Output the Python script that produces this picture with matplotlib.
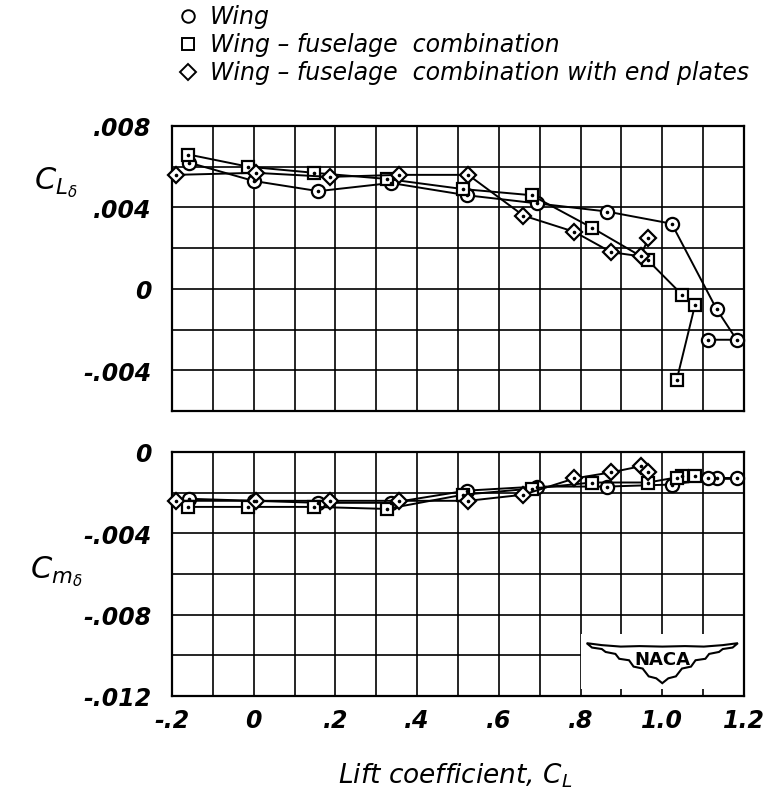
"""Effectiveness of a control (C_L_delta, C_m_delta) against lift coefficient, NACA style."""

import matplotlib
matplotlib.use("Agg")
import matplotlib.pyplot as plt
import matplotlib.ticker as mticker
import numpy as np
from matplotlib.patches import Rectangle, Polygon

# ── Data ────────────────────────────────────────────────────────────────────
# Wing (circles)
CL_WING = [-0.158, 0.000, 0.158, 0.336, 0.521, 0.693, 0.864, 1.023, 1.133, 1.182, 1.113]
CLD_WING = [0.0062, 0.0053, 0.0048, 0.0052, 0.0046, 0.0042, 0.0038, 0.0032, -0.0010, -0.0025, -0.0025]
CMD_WING = [-0.0023, -0.0024, -0.0025, -0.0025, -0.0019, -0.0017, -0.0017, -0.0016, -0.0013, -0.0013, -0.0013]

# Wing-fuselage combination (squares)
CL_WF = [-0.160, -0.013, 0.148, 0.325, 0.513, 0.680, 0.828, 0.965, 1.049, 1.080, 1.035]
CLD_WF = [0.0066, 0.0060, 0.0057, 0.0054, 0.0049, 0.0046, 0.0030, 0.0014, -0.0003, -0.0008, -0.0045]
CMD_WF = [-0.0027, -0.0027, -0.0027, -0.0028, -0.0021, -0.0018, -0.0015, -0.0015, -0.0012, -0.0012, -0.0013]

# Wing-fuselage combination with end plates (diamonds)
CL_WFE = [-0.190, 0.005, 0.186, 0.356, 0.525, 0.660, 0.785, 0.875, 0.947, 0.966]
CLD_WFE = [0.0056, 0.0057, 0.0055, 0.0056, 0.0056, 0.0036, 0.0028, 0.0018, 0.0016, 0.0025]
CMD_WFE = [-0.0024, -0.0024, -0.0024, -0.0024, -0.0024, -0.0021, -0.0013, -0.0010, -0.0007, -0.0010]

LABELS = [
    "Wing",
    "Wing \u2013 fuselage  combination",
    "Wing \u2013 fuselage  combination with end plates",
]
MARKERS = ["o", "s", "D"]
SIZES = [9.5, 8.5, 8.5]

X_TICKS = [-0.2, 0.0, 0.2, 0.4, 0.6, 0.8, 1.0, 1.2]
X_LABELS = ["-.2", "0", ".2", ".4", ".6", ".8", "1.0", "1.2"]
Y1_TICKS = [-0.004, 0.0, 0.004, 0.008]
Y1_LABELS = ["-.004", "0", ".004", ".008"]
Y2_TICKS = [-0.012, -0.008, -0.004, 0.0]
Y2_LABELS = ["-.012", "-.008", "-.004", "0"]

SERIES = [
    (CL_WING, CLD_WING, CMD_WING),
    (CL_WF, CLD_WF, CMD_WF),
    (CL_WFE, CLD_WFE, CMD_WFE),
]

W, H = 771, 804
FONT = dict(family="DejaVu Sans", style="italic")

fig = plt.figure(figsize=(W / 100, H / 100), dpi=100)
fig.patch.set_facecolor("white")

ax1 = fig.add_axes([172 / W, 1 - 412 / H, 572 / W, 285 / H])
ax2 = fig.add_axes([172 / W, 1 - 697 / H, 572 / W, 244 / H])


def style_axes(ax, ylim, yticks, ylabels, show_x):
    ax.set_xlim(-0.2, 1.2)
    ax.set_ylim(*ylim)
    ax.xaxis.set_minor_locator(mticker.MultipleLocator(0.1))
    ax.yaxis.set_minor_locator(mticker.MultipleLocator(0.002))
    ax.set_xticks(X_TICKS)
    ax.set_yticks(yticks)
    ax.set_yticklabels(ylabels, fontsize=17, fontweight="bold", **FONT)
    if show_x:
        ax.set_xticklabels(X_LABELS, fontsize=17, fontweight="bold", **FONT)
    else:
        ax.set_xticklabels([])
    ax.tick_params(which="both", length=0)
    ax.tick_params(axis="y", pad=15)
    ax.tick_params(axis="x", pad=9)
    ax.grid(True, which="both", color="black", linewidth=1.2)
    ax.set_axisbelow(True)
    for sp in ax.spines.values():
        sp.set_linewidth(1.6)
        sp.set_color("black")


style_axes(ax1, (-0.006, 0.008), Y1_TICKS, Y1_LABELS, False)
style_axes(ax2, (-0.012, 0.0), Y2_TICKS, Y2_LABELS, True)

for (cl, cld, cmd), marker, ms in zip(SERIES, MARKERS, SIZES):
    for ax, vals in ((ax1, cld), (ax2, cmd)):
        ax.plot(cl, vals, color="black", linewidth=1.4, marker=marker,
                markersize=ms, markerfacecolor="white", markeredgecolor="black",
                markeredgewidth=1.6, zorder=3, clip_on=False)
        ax.plot(cl, vals, linestyle="none", marker="o", markersize=1.6,
                color="black", zorder=4, clip_on=False)

# NACA wing logo in the lower right corner of the bottom panel
ax2.add_patch(Rectangle((0.8, -0.01165), 0.4, 0.0027, facecolor="white",
                        edgecolor="none", zorder=2))
cx, cy, sx, sy = 1.0, -0.00945, 0.185, 0.0024
wing = np.array([
    (-1.00, 0.02), (-0.80, -0.02), (-0.55, -0.05), (-0.30, -0.04), (0.00, -0.05),
    (0.30, -0.04), (0.55, -0.05), (0.80, -0.02), (1.00, 0.02),
    (0.93, -0.07), (0.80, -0.10), (0.75, -0.16), (0.62, -0.20), (0.57, -0.30),
    (0.44, -0.33), (0.38, -0.46), (0.26, -0.50), (0.18, -0.66), (0.08, -0.70),
    (0.00, -0.80), (-0.08, -0.70), (-0.18, -0.66), (-0.26, -0.50), (-0.38, -0.46),
    (-0.44, -0.33), (-0.57, -0.30), (-0.62, -0.20), (-0.75, -0.16), (-0.80, -0.10),
    (-0.93, -0.07),
])
ax2.add_patch(Polygon(np.column_stack([cx + wing[:, 0] * sx, cy + wing[:, 1] * sy]),
                      closed=True, facecolor="white", edgecolor="black",
                      linewidth=1.5, zorder=5))
ax2.text(cx, cy - 0.00075, "NACA", ha="center", va="center", fontsize=13,
         fontweight="bold", family="DejaVu Sans", zorder=6)

# Axis titles
fig.text(56 / W, 1 - 183 / H, r"$C_{L_{\delta}}$", fontsize=22, ha="center", va="center")
fig.text(56 / W, 1 - 572 / H, r"$C_{m_{\delta}}$", fontsize=22, ha="center", va="center")
fig.text(455 / W, 1 - 776 / H, "Lift coefficient, $C_L$", fontsize=19,
         ha="center", va="center", **FONT)

# Legend drawn on an overlay
lax = fig.add_axes([0, 0, 1, 1])
lax.set_xlim(0, W)
lax.set_ylim(H, 0)
lax.axis("off")
for i, (label, marker, ms) in enumerate(zip(LABELS, MARKERS, SIZES)):
    y = 17 + 28 * i
    lax.plot([188], [y], marker=marker, markersize=ms * 0.95, markerfacecolor="white",
             markeredgecolor="black", markeredgewidth=1.4, linestyle="none")
    lax.text(210, y, label, fontsize=17, va="center", ha="left", **FONT)

fig.savefig("out.png", dpi=100, facecolor="white")
plt.close(fig)
